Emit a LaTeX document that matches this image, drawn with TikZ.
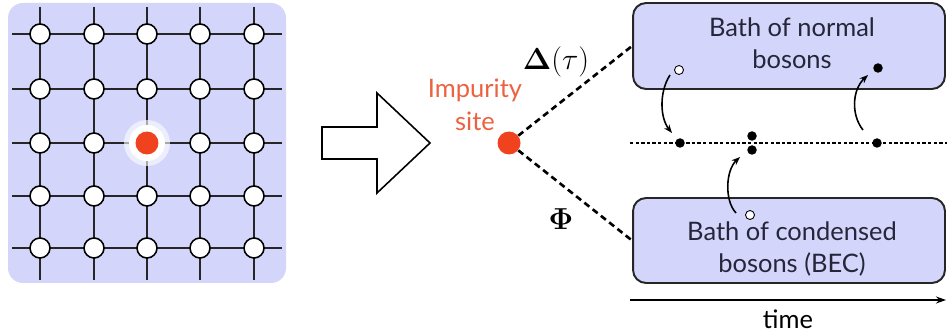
\documentclass[tikz,border=0pt]{standalone}
\usepackage[no-math]{fontspec}
\setmainfont{Lato}
\usetikzlibrary{arrows.meta,positioning}
\definecolor{bathblue}{RGB}{212,213,250}
\definecolor{impred}{RGB}{240,66,30}
\definecolor{impword}{RGB}{236,98,64}
\definecolor{bathink}{RGB}{38,38,58}

\tikzset{
  site/.style={circle,draw=black,fill=white,line width=0.9pt,minimum size=0.4cm,inner sep=0pt},
  gridline/.style={line width=1.1pt,black!85},
  impdot/.style={circle,fill=impred,minimum size=0.46cm,inner sep=0pt},
  bdot/.style={circle,fill=black,minimum size=0.19cm,inner sep=0pt},
  wdot/.style={circle,draw=black,fill=white,line width=0.5pt,minimum size=0.18cm,inner sep=0pt},
  bath/.style={draw=black!85,fill=bathblue,rounded corners=0.26cm,line width=1.1pt,inner sep=0pt},
  bathtext/.style={align=center,text=bathink,font=\fontsize{14.5}{18.2}\selectfont},
  coupling/.style={font=\fontsize{16}{18}\selectfont},
  hop/.style={line width=0.9pt,-{Stealth[length=0.17cm,width=0.13cm]}}
}

\begin{document}
\begin{tikzpicture}[x=0.02cm,y=-0.02cm]
  \useasboundingbox (0,0) rectangle (947,334);

  \fill[bathblue,rounded corners=0.3cm] (8,3) rectangle (286,283); %Lattice background
  \foreach \x in {40,94,147,200,254}
    \draw[gridline] (\x,7) -- (\x,280) ;   %Vertical bonds
  \foreach \y in {34,89,143,196,248}
    \draw[gridline] (12,\y) -- (282,\y) ;  %Horizontal bonds
  \foreach \x [count=\i] in {40,94,147,200,254}
    \foreach \y [count=\j] in {34,89,143,196,248}
      \node[site] (s\i\j) at (\x,\y) {} ;  %Lattice sites

  \fill[white,opacity=0.6] (s33) circle (23) ; %Glow round the impurity
  \fill[white] (s33) circle (18) ;
  \node[impdot] (latimp) at (s33) {} ;

  % Big arrow
  \draw[line width=0.9pt,fill=white] (322,127) -- (377,127) -- (377,93) -- (430,143)
     -- (377,193) -- (377,159) -- (322,159) -- cycle ;

  \node[impdot] (imp) at (509,143) {} ;
  \node[align=center,text=impword,font=\fontsize{14.5}{18.8}\selectfont] (implabel) at (475,105) {Impurity\\site};

  % The two baths
  \node[bath,minimum width=6.24cm,minimum height=1.72cm] (normal) at (789,46) {} ;
  \node[bath,minimum width=6.24cm,minimum height=1.70cm] (bec) at (789,240.5) {} ;
  \node[bathtext] (normaltext) at (792,43) {Bath of normal\\bosons};
  \node[bathtext] (bectext) at (792,249) {Bath of condensed\\bosons (BEC)};

  \draw[dashed,line width=1.5pt,dash pattern=on 3.6pt off 2.4pt] (imp) -- (normal.west) ;
  \draw[dashed,line width=1.5pt,dash pattern=on 3.6pt off 2.4pt] (imp) -- (bec.west) ;
  \node[coupling] (delta) at (556,62) {$\mathbf{\Delta}(\tau)$};
  \node[coupling] (phi) at (561,219) {$\mathbf{\Phi}$};

  % Time line of the impurity
  \coordinate (tl0) at (630,143) ;
  \coordinate (tl1) at (947,143) ;
  \draw[line width=0.7pt,dash pattern=on 1.9pt off 1.3pt] (tl0) -- (tl1) ;
  \node[bdot] (d1) at (680,143) {} ;
  \node[bdot] (d2a) at (752,136) {} ;
  \node[bdot] (d2b) at (752,150) {} ;
  \node[bdot] (d3) at (877,143) {} ;
  \node[wdot] (o1) at (679,70) {} ;
  \node[bdot] (b1) at (878,68) {} ;
  \node[wdot] (o2) at (750,215) {} ;

  \draw[hop] ([shift={(-9,5)}]o1.center) .. controls (659,92) and (660,118) .. ([shift={(-8,-10)}]d1.center) ;
  \draw[hop] ([shift={(-14,-2)}]o2.center) .. controls (724,200) and (726,170) .. ([shift={(-12,7)}]d2b.center) ;
  \draw[hop] ([shift={(-14,-13)}]d3.center) .. controls (851,115) and (852,90) .. ([shift={(-10,7)}]b1.center) ;

  \coordinate (t0) at (630,300) ;
  \coordinate (t1) at (946,300) ;
  \draw[line width=0.9pt,-{Stealth[length=0.2cm,width=0.14cm]}] (t0) -- (t1) ;
  \node[bathtext,text=black] (time) at (788,319) {time};
\end{tikzpicture}
\end{document}
